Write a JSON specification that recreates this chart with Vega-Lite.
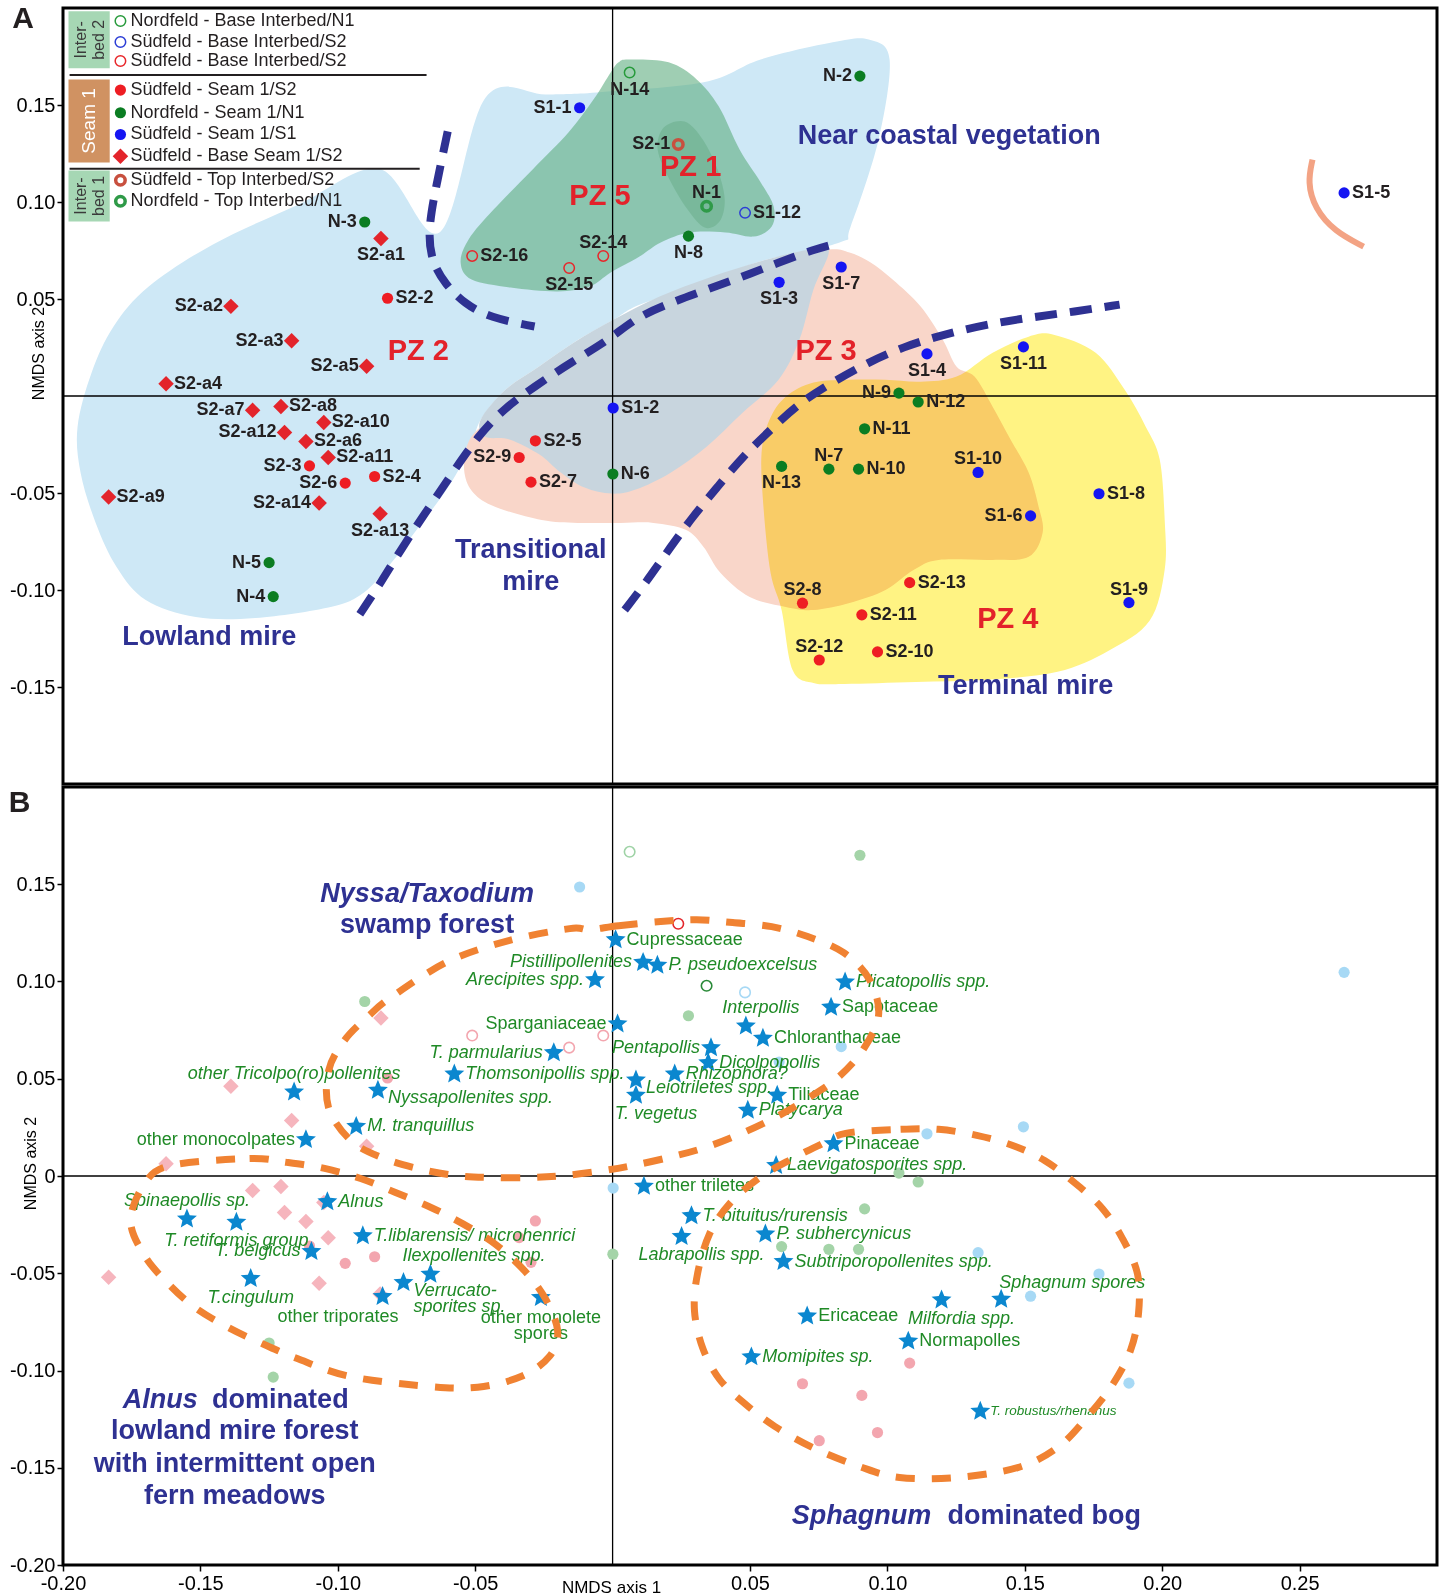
{
"$schema":"https://vega.github.io/schema/vega-lite/v6.json",
"background":"#ffffff",
"padding":{"left":7,"top":2,"right":0,"bottom":0},
"spacing":-6,
"resolve":{"scale":{"color":"independent"}},
"config":{
 "font":"Liberation Sans",
 "view":{"stroke":"#000000","strokeWidth":3},
 "axis":{"domain":false,"grid":false,"ticks":true,"tickSize":6,"tickWidth":1.5,"tickColor":"#000000","labelFontSize":20,"labelColor":"#000000","labelPadding":2,"titleFontSize":16,"titleFontWeight":"normal","titleColor":"#000000","labelFont":"Liberation Sans","titleFont":"Liberation Sans"}
},
"datasets":{
"samples":[
{"id":"N-14","g":"Nb","x":0.0062,"y":0.1667},
{"id":"S1-12","g":"Sb1","x":0.0482,"y":0.0944},
{"id":"S2-16","g":"Sb2","x":-0.0511,"y":0.0722},
{"id":"S2-15","g":"Sb2","x":-0.0158,"y":0.0660},
{"id":"S2-14","g":"Sb2","x":-0.0034,"y":0.0722},
{"id":"S2-1","g":"S2t","x":0.0239,"y":0.1297},
{"id":"N-1","g":"N1t","x":0.0342,"y":0.0978},
{"id":"S2-2","g":"S2s","x":-0.0819,"y":0.0504},
{"id":"S2-3","g":"S2s","x":-0.1103,"y":-0.0360},
{"id":"S2-4","g":"S2s","x":-0.0866,"y":-0.0415},
{"id":"S2-6","g":"S2s","x":-0.0973,"y":-0.0449},
{"id":"S2-5","g":"S2s","x":-0.0281,"y":-0.0231},
{"id":"S2-9","g":"S2s","x":-0.0340,"y":-0.0317},
{"id":"S2-7","g":"S2s","x":-0.0297,"y":-0.0444},
{"id":"S2-13","g":"S2s","x":0.1081,"y":-0.0962},
{"id":"S2-8","g":"S2s","x":0.0691,"y":-0.1068},
{"id":"S2-11","g":"S2s","x":0.0907,"y":-0.1128},
{"id":"S2-12","g":"S2s","x":0.0752,"y":-0.1361},
{"id":"S2-10","g":"S2s","x":0.0964,"y":-0.1319},
{"id":"N-3","g":"N1s","x":-0.0902,"y":0.0897},
{"id":"N-5","g":"N1s","x":-0.1250,"y":-0.0859},
{"id":"N-4","g":"N1s","x":-0.1235,"y":-0.1034},
{"id":"N-8","g":"N1s","x":0.0276,"y":0.0824},
{"id":"N-2","g":"N1s","x":0.0900,"y":0.1649},
{"id":"N-9","g":"N1s","x":0.1042,"y":0.0015},
{"id":"N-12","g":"N1s","x":0.1112,"y":-0.0031},
{"id":"N-11","g":"N1s","x":0.0917,"y":-0.0169},
{"id":"N-6","g":"N1s","x":0.0001,"y":-0.0402},
{"id":"N-13","g":"N1s","x":0.0615,"y":-0.0363},
{"id":"N-7","g":"N1s","x":0.0787,"y":-0.0377},
{"id":"N-10","g":"N1s","x":0.0895,"y":-0.0377},
{"id":"S1-1","g":"S1s","x":-0.0120,"y":0.1486},
{"id":"S1-7","g":"S1s","x":0.0832,"y":0.0665},
{"id":"S1-3","g":"S1s","x":0.0606,"y":0.0586},
{"id":"S1-4","g":"S1s","x":0.1144,"y":0.0217},
{"id":"S1-11","g":"S1s","x":0.1495,"y":0.0253},
{"id":"S1-2","g":"S1s","x":0.0002,"y":-0.0062},
{"id":"S1-10","g":"S1s","x":0.1330,"y":-0.0394},
{"id":"S1-8","g":"S1s","x":0.1770,"y":-0.0504},
{"id":"S1-6","g":"S1s","x":0.1521,"y":-0.0618},
{"id":"S1-9","g":"S1s","x":0.1879,"y":-0.1065},
{"id":"S1-5","g":"S1s","x":0.2662,"y":0.1047},
{"id":"S2-a1","g":"S2d","x":-0.0843,"y":0.0812},
{"id":"S2-a2","g":"S2d","x":-0.1389,"y":0.0462},
{"id":"S2-a3","g":"S2d","x":-0.1168,"y":0.0285},
{"id":"S2-a5","g":"S2d","x":-0.0895,"y":0.0153},
{"id":"S2-a4","g":"S2d","x":-0.1625,"y":0.0063},
{"id":"S2-a7","g":"S2d","x":-0.1310,"y":-0.0074},
{"id":"S2-a8","g":"S2d","x":-0.1207,"y":-0.0054},
{"id":"S2-a10","g":"S2d","x":-0.1051,"y":-0.0136},
{"id":"S2-a12","g":"S2d","x":-0.1194,"y":-0.0188},
{"id":"S2-a6","g":"S2d","x":-0.1116,"y":-0.0234},
{"id":"S2-a11","g":"S2d","x":-0.1035,"y":-0.0317},
{"id":"S2-a9","g":"S2d","x":-0.1834,"y":-0.0521},
{"id":"S2-a14","g":"S2d","x":-0.1068,"y":-0.0552},
{"id":"S2-a13","g":"S2d","x":-0.0846,"y":-0.0607}
],
"legendItems":[
{"g":"Nb","label":"Nordfeld - Base Interbed/N1","x":-0.1791,"y":0.1933},
{"g":"Sb1","label":"Südfeld - Base Interbed/S2","x":-0.1791,"y":0.1825},
{"g":"Sb2","label":"Südfeld - Base Interbed/S2","x":-0.1791,"y":0.1727},
{"g":"S2s","label":"Südfeld - Seam 1/S2","x":-0.1791,"y":0.1577},
{"g":"N1s","label":"Nordfeld - Seam 1/N1","x":-0.1791,"y":0.1460},
{"g":"S1s","label":"Südfeld - Seam 1/S1","x":-0.1791,"y":0.1348},
{"g":"S2d","label":"Südfeld - Base Seam 1/S2","x":-0.1791,"y":0.1236},
{"g":"S2t","label":"Südfeld - Top Interbed/S2","x":-0.1791,"y":0.1112},
{"g":"N1t","label":"Nordfeld - Top Interbed/N1","x":-0.1791,"y":0.1004}
],
"legendBoxes":[
{"box":"Inter-\nbed 2","x":-0.198,"x2":-0.183,"y":0.1983,"y2":0.1689},
{"box":"Seam 1","x":-0.198,"x2":-0.183,"y":0.1632,"y2":0.1204},
{"box":"Inter-\nbed 1","x":-0.198,"x2":-0.183,"y":0.1163,"y2":0.0900}
],
"boxLabels":[
{"box":"Inter-\nbed 2","x":-0.1936,"y":0.1836},
{"box":"Seam 1","x":-0.1905,"y":0.1418},
{"box":"Inter-\nbed 1","x":-0.1936,"y":0.1031}
],
"legendLines":[
{"x":-0.1976,"x2":-0.0677,"y":0.1654},
{"x":-0.1976,"x2":-0.0702,"y":0.1171}
],
"zeroV":[{"x":0,"y":-0.2,"y2":0.2}],
"zeroH":[{"x":-0.2,"x2":0.3,"y":0}],
"zonesA":[
{"t":"PZ 1","x":0.0284,"y":0.1178},
{"t":"PZ 2","x":-0.0707,"y":0.0231},
{"t":"PZ 3","x":0.0777,"y":0.0231},
{"t":"PZ 4","x":0.1438,"y":-0.1151},
{"t":"PZ 5","x":-0.0046,"y":0.1031}
],
"namesA":[
{"t":"Near coastal vegetation","x":0.1225,"y":0.1341},
{"t":"Transitional","x":-0.0298,"y":-0.0796},
{"t":"mire","x":-0.0298,"y":-0.0959},
{"t":"Lowland mire","x":-0.1468,"y":-0.1243},
{"t":"Terminal mire","x":0.1503,"y":-0.1495}
],
"labelA":[{"t":"A","x":-0.2145,"y":0.1945}],
"labelB":[{"t":"B","x":-0.2158,"y":0.1917}],
"regions":[
{"r":"blue","i":1,"x":-0.0630,"y":0.0843},{"r":"blue","i":2,"x":-0.0462,"y":0.1539},{"r":"blue","i":3,"x":-0.0240,"y":0.1554},{"r":"blue","i":4,"x":-0.0058,"y":0.1565},{"r":"blue","i":5,"x":0.0331,"y":0.1617},{"r":"blue","i":6,"x":0.0539,"y":0.1735},{"r":"blue","i":7,"x":0.0801,"y":0.1823},{"r":"blue","i":8,"x":0.0932,"y":0.1838},{"r":"blue","i":9,"x":0.1008,"y":0.1735},{"r":"blue","i":10,"x":0.0968,"y":0.1322},{"r":"blue","i":11,"x":0.0866,"y":0.0873},{"r":"blue","i":12,"x":0.0826,"y":0.0791},{"r":"blue","i":13,"x":0.0535,"y":0.0693},{"r":"blue","i":14,"x":0.0317,"y":0.0574},{"r":"blue","i":15,"x":0.0098,"y":0.0471},{"r":"blue","i":16,"x":0.0004,"y":0.0394},{"r":"blue","i":17,"x":-0.0142,"y":0.0275},{"r":"blue","i":18,"x":-0.0269,"y":0.0151},{"r":"blue","i":19,"x":-0.0389,"y":0.0033},{"r":"blue","i":20,"x":-0.0480,"y":-0.0122},{"r":"blue","i":21,"x":-0.0517,"y":-0.0261},{"r":"blue","i":22,"x":-0.0597,"y":-0.0467},{"r":"blue","i":23,"x":-0.0713,"y":-0.0689},{"r":"blue","i":24,"x":-0.0811,"y":-0.0870},{"r":"blue","i":25,"x":-0.0906,"y":-0.1014},{"r":"blue","i":26,"x":-0.1026,"y":-0.1087},{"r":"blue","i":27,"x":-0.1299,"y":-0.1144},{"r":"blue","i":28,"x":-0.1517,"y":-0.1139},{"r":"blue","i":29,"x":-0.1699,"y":-0.1051},{"r":"blue","i":30,"x":-0.1805,"y":-0.0881},{"r":"blue","i":31,"x":-0.1881,"y":-0.0654},{"r":"blue","i":32,"x":-0.1936,"y":-0.0396},{"r":"blue","i":33,"x":-0.1947,"y":-0.0158},{"r":"blue","i":34,"x":-0.1896,"y":0.0120},{"r":"blue","i":35,"x":-0.1816,"y":0.0358},{"r":"blue","i":36,"x":-0.1688,"y":0.0564},{"r":"blue","i":37,"x":-0.1456,"y":0.0780},{"r":"blue","i":38,"x":-0.1139,"y":0.0990},{"r":"blue","i":39,"x":-0.0848,"y":0.1170},
{"r":"salmon","i":1,"x":0.0786,"y":0.0755},{"r":"salmon","i":2,"x":0.0862,"y":0.0740},{"r":"salmon","i":3,"x":0.0939,"y":0.0688},{"r":"salmon","i":4,"x":0.1019,"y":0.0600},{"r":"salmon","i":5,"x":0.1121,"y":0.0461},{"r":"salmon","i":6,"x":0.1201,"y":0.0291},{"r":"salmon","i":7,"x":0.1252,"y":0.0151},{"r":"salmon","i":8,"x":0.1317,"y":0.0100},{"r":"salmon","i":9,"x":0.1383,"y":-0.0055},{"r":"salmon","i":10,"x":0.1448,"y":-0.0224},{"r":"salmon","i":11,"x":0.1514,"y":-0.0394},{"r":"salmon","i":12,"x":0.1550,"y":-0.0569},{"r":"salmon","i":13,"x":0.1565,"y":-0.0703},{"r":"salmon","i":14,"x":0.1514,"y":-0.0829},{"r":"salmon","i":15,"x":0.1383,"y":-0.0845},{"r":"salmon","i":16,"x":0.1186,"y":-0.0845},{"r":"salmon","i":17,"x":0.1095,"y":-0.0897},{"r":"salmon","i":18,"x":0.0993,"y":-0.1000},{"r":"salmon","i":19,"x":0.0862,"y":-0.1067},{"r":"salmon","i":20,"x":0.0731,"y":-0.1103},{"r":"salmon","i":21,"x":0.0630,"y":-0.1087},{"r":"salmon","i":22,"x":0.0499,"y":-0.1036},{"r":"salmon","i":23,"x":0.0393,"y":-0.0912},{"r":"salmon","i":24,"x":0.0331,"y":-0.0778},{"r":"salmon","i":25,"x":0.0266,"y":-0.0690},{"r":"salmon","i":26,"x":0.0149,"y":-0.0654},{"r":"salmon","i":27,"x":0.0029,"y":-0.0654},{"r":"salmon","i":28,"x":-0.0127,"y":-0.0654},{"r":"salmon","i":29,"x":-0.0258,"y":-0.0639},{"r":"salmon","i":30,"x":-0.0426,"y":-0.0572},{"r":"salmon","i":31,"x":-0.0506,"y":-0.0500},{"r":"salmon","i":32,"x":-0.0539,"y":-0.0397},{"r":"salmon","i":33,"x":-0.0531,"y":-0.0261},{"r":"salmon","i":34,"x":-0.0480,"y":-0.0158},{"r":"salmon","i":35,"x":-0.0338,"y":-0.0019},{"r":"salmon","i":36,"x":-0.0047,"y":0.0291},{"r":"salmon","i":37,"x":0.0317,"y":0.0549},{"r":"salmon","i":38,"x":0.0608,"y":0.0704},
{"r":"grey","i":1,"x":-0.0480,"y":-0.0122},{"r":"grey","i":2,"x":-0.0389,"y":0.0033},{"r":"grey","i":3,"x":-0.0269,"y":0.0151},{"r":"grey","i":4,"x":-0.0142,"y":0.0275},{"r":"grey","i":5,"x":0.0004,"y":0.0394},{"r":"grey","i":6,"x":0.0171,"y":0.0513},{"r":"grey","i":7,"x":0.0353,"y":0.0611},{"r":"grey","i":8,"x":0.0535,"y":0.0693},{"r":"grey","i":9,"x":0.0680,"y":0.0745},{"r":"grey","i":10,"x":0.0786,"y":0.0755},{"r":"grey","i":11,"x":0.0731,"y":0.0549},{"r":"grey","i":12,"x":0.0680,"y":0.0291},{"r":"grey","i":13,"x":0.0604,"y":0.0084},{"r":"grey","i":14,"x":0.0473,"y":-0.0086},{"r":"grey","i":15,"x":0.0342,"y":-0.0261},{"r":"grey","i":16,"x":0.0211,"y":-0.0395},{"r":"grey","i":17,"x":0.0084,"y":-0.0482},{"r":"grey","i":18,"x":-0.0004,"y":-0.0503},{"r":"grey","i":19,"x":-0.0102,"y":-0.0472},{"r":"grey","i":20,"x":-0.0193,"y":-0.0390},{"r":"grey","i":21,"x":-0.0266,"y":-0.0302},{"r":"grey","i":22,"x":-0.0375,"y":-0.0224},{"r":"grey","i":23,"x":-0.0466,"y":-0.0209},
{"r":"green","i":1,"x":0.0058,"y":0.1735},{"r":"green","i":2,"x":0.0204,"y":0.1720},{"r":"green","i":3,"x":0.0306,"y":0.1632},{"r":"green","i":4,"x":0.0386,"y":0.1493},{"r":"green","i":5,"x":0.0462,"y":0.1271},{"r":"green","i":6,"x":0.0539,"y":0.1101},{"r":"green","i":7,"x":0.0586,"y":0.0977},{"r":"green","i":8,"x":0.0579,"y":0.0874},{"r":"green","i":9,"x":0.0513,"y":0.0822},{"r":"green","i":10,"x":0.0411,"y":0.0843},{"r":"green","i":11,"x":0.0280,"y":0.0843},{"r":"green","i":12,"x":0.0175,"y":0.0791},{"r":"green","i":13,"x":0.0098,"y":0.0719},{"r":"green","i":14,"x":-0.0007,"y":0.0637},{"r":"green","i":15,"x":-0.0084,"y":0.0564},{"r":"green","i":16,"x":-0.0200,"y":0.0539},{"r":"green","i":17,"x":-0.0371,"y":0.0559},{"r":"green","i":18,"x":-0.0513,"y":0.0600},{"r":"green","i":19,"x":-0.0553,"y":0.0688},{"r":"green","i":20,"x":-0.0524,"y":0.0807},{"r":"green","i":21,"x":-0.0433,"y":0.0961},{"r":"green","i":22,"x":-0.0291,"y":0.1168},{"r":"green","i":23,"x":-0.0160,"y":0.1359},{"r":"green","i":24,"x":-0.0069,"y":0.1529},{"r":"green","i":25,"x":-0.0007,"y":0.1668},{"r":"green","i":26,"x":0.0022,"y":0.1720},
{"r":"pz1","i":1,"x":0.0186,"y":0.1384},{"r":"pz1","i":2,"x":0.0262,"y":0.1415},{"r":"pz1","i":3,"x":0.0328,"y":0.1322},{"r":"pz1","i":4,"x":0.0382,"y":0.1167},{"r":"pz1","i":5,"x":0.0408,"y":0.1012},{"r":"pz1","i":6,"x":0.0389,"y":0.0899},{"r":"pz1","i":7,"x":0.0335,"y":0.0868},{"r":"pz1","i":8,"x":0.0273,"y":0.0961},{"r":"pz1","i":9,"x":0.0207,"y":0.1116},{"r":"pz1","i":10,"x":0.0164,"y":0.1271},
{"r":"yellow","i":1,"x":0.0630,"y":-0.0004},{"r":"yellow","i":2,"x":0.0731,"y":0.0069},{"r":"yellow","i":3,"x":0.0862,"y":0.0084},{"r":"yellow","i":4,"x":0.0993,"y":0.0084},{"r":"yellow","i":5,"x":0.1121,"y":0.0074},{"r":"yellow","i":6,"x":0.1252,"y":0.0100},{"r":"yellow","i":7,"x":0.1383,"y":0.0223},{"r":"yellow","i":8,"x":0.1514,"y":0.0306},{"r":"yellow","i":9,"x":0.1605,"y":0.0316},{"r":"yellow","i":10,"x":0.1758,"y":0.0223},{"r":"yellow","i":11,"x":0.1863,"y":0.0033},{"r":"yellow","i":12,"x":0.1940,"y":-0.0158},{"r":"yellow","i":13,"x":0.1991,"y":-0.0327},{"r":"yellow","i":14,"x":0.2009,"y":-0.0637},{"r":"yellow","i":15,"x":0.2009,"y":-0.0895},{"r":"yellow","i":16,"x":0.1954,"y":-0.1159},{"r":"yellow","i":17,"x":0.1805,"y":-0.1313},{"r":"yellow","i":18,"x":0.1619,"y":-0.1422},{"r":"yellow","i":19,"x":0.1361,"y":-0.1463},{"r":"yellow","i":20,"x":0.1103,"y":-0.1474},{"r":"yellow","i":21,"x":0.0844,"y":-0.1484},{"r":"yellow","i":22,"x":0.0731,"y":-0.1479},{"r":"yellow","i":23,"x":0.0655,"y":-0.1412},{"r":"yellow","i":24,"x":0.0615,"y":-0.1103},{"r":"yellow","i":25,"x":0.0575,"y":-0.0912},{"r":"yellow","i":26,"x":0.0549,"y":-0.0572},{"r":"yellow","i":27,"x":0.0542,"y":-0.0294},{"r":"yellow","i":28,"x":0.0571,"y":-0.0123}
],
"borders":[
{"line":"a","i":1,"x":-0.0600,"y":0.1364},{"line":"a","i":2,"x":-0.0637,"y":0.1116},{"line":"a","i":3,"x":-0.0673,"y":0.0858},{"line":"a","i":4,"x":-0.0659,"y":0.0693},{"line":"a","i":5,"x":-0.0608,"y":0.0574},{"line":"a","i":6,"x":-0.0539,"y":0.0476},{"line":"a","i":7,"x":-0.0448,"y":0.0404},{"line":"a","i":8,"x":-0.0284,"y":0.0358},
{"line":"b","i":1,"x":-0.0920,"y":-0.1125},{"line":"b","i":2,"x":-0.0844,"y":-0.0963},{"line":"b","i":3,"x":-0.0764,"y":-0.0777},{"line":"b","i":4,"x":-0.0673,"y":-0.0585},{"line":"b","i":5,"x":-0.0582,"y":-0.0395},{"line":"b","i":6,"x":-0.0491,"y":-0.0209},{"line":"b","i":7,"x":-0.0400,"y":-0.0070},{"line":"b","i":8,"x":-0.0284,"y":0.0049},{"line":"b","i":9,"x":-0.0153,"y":0.0172},{"line":"b","i":10,"x":-0.0011,"y":0.0291},{"line":"b","i":11,"x":0.0084,"y":0.0404},{"line":"b","i":12,"x":0.0211,"y":0.0481},{"line":"b","i":13,"x":0.0342,"y":0.0548},{"line":"b","i":14,"x":0.0473,"y":0.0615},{"line":"b","i":15,"x":0.0604,"y":0.0688},{"line":"b","i":16,"x":0.0731,"y":0.0755},{"line":"b","i":17,"x":0.0826,"y":0.0791},
{"line":"c","i":1,"x":0.0044,"y":-0.1103},{"line":"c","i":2,"x":0.0120,"y":-0.0964},{"line":"c","i":3,"x":0.0211,"y":-0.0778},{"line":"c","i":4,"x":0.0291,"y":-0.0623},{"line":"c","i":5,"x":0.0382,"y":-0.0468},{"line":"c","i":6,"x":0.0473,"y":-0.0313},{"line":"c","i":7,"x":0.0575,"y":-0.0174},{"line":"c","i":8,"x":0.0680,"y":-0.0035},{"line":"c","i":9,"x":0.0797,"y":0.0069},{"line":"c","i":10,"x":0.0928,"y":0.0172},{"line":"c","i":11,"x":0.1059,"y":0.0254},{"line":"c","i":12,"x":0.1201,"y":0.0316},{"line":"c","i":13,"x":0.1357,"y":0.0368},{"line":"c","i":14,"x":0.1514,"y":0.0404},{"line":"c","i":15,"x":0.1681,"y":0.0435},{"line":"c","i":16,"x":0.1845,"y":0.0471}
],
"arc":[
{"i":1,"x":0.2547,"y":0.1219},{"i":2,"x":0.2529,"y":0.1101},{"i":3,"x":0.2555,"y":0.0967},{"i":4,"x":0.2627,"y":0.0848},{"i":5,"x":0.2733,"y":0.0770}
],
"ellipses":[
{"e":"upper","i":1,"x":-0.0084,"y":0.1267},{"e":"upper","i":2,"x":0.0022,"y":0.1287},{"e":"upper","i":3,"x":0.0175,"y":0.1308},{"e":"upper","i":4,"x":0.0306,"y":0.1318},{"e":"upper","i":5,"x":0.0437,"y":0.1303},{"e":"upper","i":6,"x":0.0579,"y":0.1282},{"e":"upper","i":7,"x":0.0710,"y":0.1231},{"e":"upper","i":8,"x":0.0841,"y":0.1148},{"e":"upper","i":9,"x":0.0935,"y":0.1009},{"e":"upper","i":10,"x":0.0968,"y":0.0828},{"e":"upper","i":11,"x":0.0913,"y":0.0653},{"e":"upper","i":12,"x":0.0826,"y":0.0514},{"e":"upper","i":13,"x":0.0717,"y":0.0405},{"e":"upper","i":14,"x":0.0600,"y":0.0307},{"e":"upper","i":15,"x":0.0469,"y":0.0219},{"e":"upper","i":16,"x":0.0338,"y":0.0147},{"e":"upper","i":17,"x":0.0207,"y":0.0096},{"e":"upper","i":18,"x":0.0073,"y":0.0054},{"e":"upper","i":19,"x":-0.0033,"y":0.0028},{"e":"upper","i":20,"x":-0.0171,"y":0.0003},{"e":"upper","i":21,"x":-0.0298,"y":-0.0008},{"e":"upper","i":22,"x":-0.0444,"y":-0.0008},{"e":"upper","i":23,"x":-0.0575,"y":0.0003},{"e":"upper","i":24,"x":-0.0710,"y":0.0039},{"e":"upper","i":25,"x":-0.0841,"y":0.0095},{"e":"upper","i":26,"x":-0.0953,"y":0.0183},{"e":"upper","i":27,"x":-0.1033,"y":0.0348},{"e":"upper","i":28,"x":-0.1033,"y":0.0544},{"e":"upper","i":29,"x":-0.0975,"y":0.0699},{"e":"upper","i":30,"x":-0.0884,"y":0.0828},{"e":"upper","i":31,"x":-0.0804,"y":0.0921},{"e":"upper","i":32,"x":-0.0600,"y":0.1102},{"e":"upper","i":33,"x":-0.0378,"y":0.1210},{"e":"upper","i":34,"x":-0.0156,"y":0.1272},
{"e":"left","i":1,"x":-0.1608,"y":0.0054},{"e":"left","i":2,"x":-0.1321,"y":0.0090},{"e":"left","i":3,"x":-0.1186,"y":0.0070},{"e":"left","i":4,"x":-0.1048,"y":0.0039},{"e":"left","i":5,"x":-0.0917,"y":-0.0013},{"e":"left","i":6,"x":-0.0790,"y":-0.0085},{"e":"left","i":7,"x":-0.0659,"y":-0.0163},{"e":"left","i":8,"x":-0.0546,"y":-0.0245},{"e":"left","i":9,"x":-0.0429,"y":-0.0348},{"e":"left","i":10,"x":-0.0320,"y":-0.0488},{"e":"left","i":11,"x":-0.0244,"y":-0.0632},{"e":"left","i":12,"x":-0.0200,"y":-0.0797},{"e":"left","i":13,"x":-0.0229,"y":-0.0926},{"e":"left","i":14,"x":-0.0331,"y":-0.1030},{"e":"left","i":15,"x":-0.0491,"y":-0.1086},{"e":"left","i":16,"x":-0.0677,"y":-0.1081},{"e":"left","i":17,"x":-0.0957,"y":-0.1030},{"e":"left","i":18,"x":-0.1150,"y":-0.0937},{"e":"left","i":19,"x":-0.1270,"y":-0.0865},{"e":"left","i":20,"x":-0.1394,"y":-0.0782},{"e":"left","i":21,"x":-0.1517,"y":-0.0679},{"e":"left","i":22,"x":-0.1616,"y":-0.0555},{"e":"left","i":23,"x":-0.1703,"y":-0.0410},{"e":"left","i":24,"x":-0.1754,"y":-0.0230},{"e":"left","i":25,"x":-0.1703,"y":-0.0039},
{"e":"right","i":1,"x":0.0848,"y":0.0219},{"e":"right","i":2,"x":0.1048,"y":0.0240},{"e":"right","i":3,"x":0.1186,"y":0.0240},{"e":"right","i":4,"x":0.1325,"y":0.0209},{"e":"right","i":5,"x":0.1456,"y":0.0157},{"e":"right","i":6,"x":0.1572,"y":0.0080},{"e":"right","i":7,"x":0.1685,"y":-0.0039},{"e":"right","i":8,"x":0.1783,"y":-0.0168},{"e":"right","i":9,"x":0.1856,"y":-0.0323},{"e":"right","i":10,"x":0.1910,"y":-0.0503},{"e":"right","i":11,"x":0.1914,"y":-0.0704},{"e":"right","i":12,"x":0.1885,"y":-0.0895},{"e":"right","i":13,"x":0.1820,"y":-0.1071},{"e":"right","i":14,"x":0.1729,"y":-0.1236},{"e":"right","i":15,"x":0.1619,"y":-0.1396},{"e":"right","i":16,"x":0.1474,"y":-0.1499},{"e":"right","i":17,"x":0.1252,"y":-0.1550},{"e":"right","i":18,"x":0.1044,"y":-0.1550},{"e":"right","i":19,"x":0.0899,"y":-0.1494},{"e":"right","i":20,"x":0.0735,"y":-0.1401},{"e":"right","i":21,"x":0.0590,"y":-0.1287},{"e":"right","i":22,"x":0.0480,"y":-0.1169},{"e":"right","i":23,"x":0.0389,"y":-0.1045},{"e":"right","i":24,"x":0.0328,"y":-0.0885},{"e":"right","i":25,"x":0.0298,"y":-0.0694},{"e":"right","i":26,"x":0.0309,"y":-0.0503},{"e":"right","i":27,"x":0.0353,"y":-0.0297},{"e":"right","i":28,"x":0.0426,"y":-0.0142},{"e":"right","i":29,"x":0.0535,"y":-0.0008},{"e":"right","i":30,"x":0.0655,"y":0.0090},{"e":"right","i":31,"x":0.0750,"y":0.0157}
],
"taxa":[
{"name":"Cupressaceae","x":0.0011,"y":0.1215},
{"name":"Pistillipollenites","x":0.0111,"y":0.1098},
{"name":"P. pseudoexcelsus","x":0.0163,"y":0.1083},
{"name":"Arecipites spp.","x":-0.0064,"y":0.1009},
{"name":"Plicatopollis spp.","x":0.0846,"y":0.0997},
{"name":"Sapotaceae","x":0.0795,"y":0.0868},
{"name":"Interpollis","x":0.0485,"y":0.0771},
{"name":"Chloranthaceae","x":0.0547,"y":0.0708},
{"name":"Sparganiaceae","x":0.0018,"y":0.0782},
{"name":"Pentapollis","x":0.0358,"y":0.0659},
{"name":"Dicolpopollis","x":0.0348,"y":0.0582},
{"name":"Rhizophora?","x":0.0226,"y":0.0524},
{"name":"Leiotriletes spp.","x":0.0085,"y":0.0493},
{"name":"T. vegetus","x":0.0085,"y":0.0415},
{"name":"Tiliaceae","x":0.0599,"y":0.0415},
{"name":"Platycarya","x":0.0492,"y":0.0338},
{"name":"Pinaceae","x":0.0804,"y":0.0166},
{"name":"Laevigatosporites spp.","x":0.0595,"y":0.0054},
{"name":"other triletes","x":0.0114,"y":-0.0053},
{"name":"T. bituitus/rurensis","x":0.0287,"y":-0.0204},
{"name":"Labrapollis spp.","x":0.0251,"y":-0.0311},
{"name":"P. subhercynicus","x":0.0556,"y":-0.0298},
{"name":"Subtriporopollenites spp.","x":0.0622,"y":-0.0440},
{"name":"Ericaceae","x":0.0708,"y":-0.0720},
{"name":"Milfordia spp.","x":0.1197,"y":-0.0637},
{"name":"Sphagnum spores","x":0.1414,"y":-0.0634},
{"name":"Normapolles","x":0.1076,"y":-0.0849},
{"name":"Momipites sp.","x":0.0505,"y":-0.0930},
{"name":"T. robustus/rhenanus","x":0.1338,"y":-0.1210},
{"name":"other Tricolpo(ro)pollenites","x":-0.1159,"y":0.0432},
{"name":"Nyssapollenites spp.","x":-0.0854,"y":0.0441},
{"name":"M. tranquillus","x":-0.0933,"y":0.0255},
{"name":"other monocolpates","x":-0.1116,"y":0.0187},
{"name":"Thomsonipollis spp.","x":-0.0576,"y":0.0524},
{"name":"T. parmularius","x":-0.0214,"y":0.0634},
{"name":"Spinaepollis sp.","x":-0.1549,"y":-0.0221},
{"name":"T. retiformis group","x":-0.1369,"y":-0.0238},
{"name":"Alnus","x":-0.1038,"y":-0.0132},
{"name":"T. belgicus","x":-0.1096,"y":-0.0388},
{"name":"T.liblarensis/ microhenrici","x":-0.0909,"y":-0.0307},
{"name":"T.cingulum","x":-0.1317,"y":-0.0527},
{"name":"Ilexpollenites spp.","x":-0.0663,"y":-0.0505},
{"name":"Verrucato-","x":-0.0761,"y":-0.0548},
{"name":"other triporates","x":-0.0837,"y":-0.0620},
{"name":"other monolete","x":-0.0261,"y":-0.0625}
],
"taxaExtra":[
{"t":"sporites sp.","x":-0.0761,"y":-0.0548},
{"t":"spores","x":-0.0261,"y":-0.0625}
],
"annB":[
{"t":"Nyssa/Taxodium","x":-0.0675,"y":0.1450},
{"t":"swamp forest","x":-0.0675,"y":0.1288},
{"t":"Alnus","x":-0.1646,"y":-0.1150},
{"t":"dominated","x":-0.1209,"y":-0.1150},
{"t":"lowland mire forest","x":-0.1375,"y":-0.1313},
{"t":"with intermittent open","x":-0.1375,"y":-0.1480},
{"t":"fern meadows","x":-0.1375,"y":-0.1643},
{"t":"Sphagnum","x":0.0906,"y":-0.1748},
{"t":"dominated bog","x":0.1571,"y":-0.1748}
]
},
"vconcat":[
{
"width":1374,"height":776,
"encoding":{
 "x":{"field":"x","type":"quantitative","scale":{"domain":[-0.2,0.3],"nice":false,"zero":false},"axis":null},
 "y":{"field":"y","type":"quantitative","scale":{"domain":[-0.2,0.2],"nice":false,"zero":false},
  "axis":{"values":[-0.15,-0.1,-0.05,0.05,0.1,0.15],"labelExpr":"(datum.value < 0 ? '-' : '') + format(abs(datum.value), '.2f')","title":"NMDS axis 2","titleX":-25,"titleY":345,"titleAngle":270,"titleBaseline":"middle","titleAlign":"center","labelOverlap":false}}
},
"layer":[
{"data":{"name":"regions"},"transform":[{"filter":"datum.r == 'blue'"}],
 "mark":{"type":"line","interpolate":"cardinal-closed","fill":"#cee8f6","strokeWidth":0},"encoding":{"order":{"field":"i"}}},
{"data":{"name":"regions"},"transform":[{"filter":"datum.r == 'salmon'"}],
 "mark":{"type":"line","interpolate":"cardinal-closed","fill":"#f9d6c9","strokeWidth":0},"encoding":{"order":{"field":"i"}}},
{"data":{"name":"regions"},"transform":[{"filter":"datum.r == 'grey'"}],
 "mark":{"type":"line","interpolate":"cardinal-closed","fill":"#c8d5de","strokeWidth":0},"encoding":{"order":{"field":"i"}}},
{"data":{"name":"regions"},"transform":[{"filter":"datum.r == 'green'"}],
 "mark":{"type":"line","interpolate":"cardinal-closed","fill":"#5fae80","fillOpacity":0.6,"strokeWidth":0},"encoding":{"order":{"field":"i"}}},
{"data":{"name":"regions"},"transform":[{"filter":"datum.r == 'pz1'"}],
 "mark":{"type":"line","interpolate":"cardinal-closed","fill":"#4f9a6e","fillOpacity":0.3,"strokeWidth":0},"encoding":{"order":{"field":"i"}}},
{"data":{"name":"regions"},"transform":[{"filter":"datum.r == 'yellow'"}],
 "mark":{"type":"line","interpolate":"cardinal-closed","fill":"#fff383","blend":"multiply","strokeWidth":0},"encoding":{"order":{"field":"i"}}},
{"data":{"name":"zeroV"},"mark":{"type":"rule","color":"#000000","strokeWidth":1.3},"encoding":{"y2":{"field":"y2"}}},
{"data":{"name":"zeroH"},"mark":{"type":"rule","color":"#000000","strokeWidth":1.3},"encoding":{"x2":{"field":"x2"}}},
{"data":{"name":"borders"},
 "mark":{"type":"line","interpolate":"basis","color":"#2e3192","strokeWidth":8,"strokeDash":[22,13]},
 "encoding":{"detail":{"field":"line","type":"nominal"},"order":{"field":"i"}}},
{"data":{"name":"arc"},
 "mark":{"type":"line","interpolate":"basis","color":"#f3a384","strokeWidth":6},
 "encoding":{"order":{"field":"i"}}},
{"data":{"name":"legendBoxes"},"transform":[{"filter":"datum.box != 'Seam 1'"}],"mark":{"type":"rect","color":"#a6d7b4"},
 "encoding":{"x2":{"field":"x2"},"y2":{"field":"y2"}}},
{"data":{"name":"legendBoxes"},"transform":[{"filter":"datum.box == 'Seam 1'"}],"mark":{"type":"rect","color":"#d09262"},
 "encoding":{"x2":{"field":"x2"},"y2":{"field":"y2"}}},
{"data":{"name":"boxLabels"},"transform":[{"filter":"datum.box != 'Seam 1'"}],
 "mark":{"type":"text","angle":270,"align":"center","baseline":"middle","fontSize":16,"color":"#3a3a3a","lineBreak":"\n","lineHeight":18},
 "encoding":{"text":{"field":"box"}}},
{"data":{"name":"boxLabels"},"transform":[{"filter":"datum.box == 'Seam 1'"}],
 "mark":{"type":"text","angle":270,"align":"center","baseline":"middle","fontSize":19,"color":"#ffffff"},
 "encoding":{"text":{"field":"box"}}},
{"data":{"name":"legendLines"},"mark":{"type":"rule","color":"#231f20","strokeWidth":2},
 "encoding":{"x2":{"field":"x2"}}},
{"data":{"name":"samples"},"transform":[{"filter":{"field":"g","oneOf":["Nb","Sb1","Sb2"]}}],
 "mark":{"type":"point","shape":"circle","filled":false,"strokeWidth":1.5,"size":110,"opacity":1},
 "encoding":{"color":{"field":"g","type":"nominal","scale":{"domain":["Nb","Sb1","Sb2","S2s","N1s","S1s","S2d","S2t","N1t"],"range":["#279a3b","#2c3ed6","#e8262a","#ee1d23","#0b7d22","#1515f2","#e3242b","#c8503f","#2f9a48"]},"legend":null}}},
{"data":{"name":"samples"},"transform":[{"filter":{"field":"g","oneOf":["S2s","N1s","S1s"]}}],
 "mark":{"type":"point","shape":"circle","filled":true,"size":125,"opacity":1},
 "encoding":{"color":{"field":"g","type":"nominal","legend":null}}},
{"data":{"name":"samples"},"transform":[{"filter":{"field":"g","oneOf":["S2d"]}}],
 "mark":{"type":"point","shape":"diamond","filled":true,"size":240,"opacity":1},
 "encoding":{"color":{"field":"g","type":"nominal","legend":null}}},
{"data":{"name":"samples"},"transform":[{"filter":{"field":"g","oneOf":["S2t","N1t"]}}],
 "mark":{"type":"point","shape":"circle","filled":false,"strokeWidth":3.5,"size":90,"opacity":1},
 "encoding":{"color":{"field":"g","type":"nominal","legend":null}}},
{"data":{"name":"legendItems"},"transform":[{"filter":{"field":"g","oneOf":["Nb","Sb1","Sb2"]}}],
 "mark":{"type":"point","shape":"circle","filled":false,"strokeWidth":1.5,"size":110,"opacity":1},
 "encoding":{"color":{"field":"g","type":"nominal","legend":null}}},
{"data":{"name":"legendItems"},"transform":[{"filter":{"field":"g","oneOf":["S2s","N1s","S1s"]}}],
 "mark":{"type":"point","shape":"circle","filled":true,"size":125,"opacity":1},
 "encoding":{"color":{"field":"g","type":"nominal","legend":null}}},
{"data":{"name":"legendItems"},"transform":[{"filter":{"field":"g","oneOf":["S2d"]}}],
 "mark":{"type":"point","shape":"diamond","filled":true,"size":240,"opacity":1},
 "encoding":{"color":{"field":"g","type":"nominal","legend":null}}},
{"data":{"name":"legendItems"},"transform":[{"filter":{"field":"g","oneOf":["S2t","N1t"]}}],
 "mark":{"type":"point","shape":"circle","filled":false,"strokeWidth":3.5,"size":90,"opacity":1},
 "encoding":{"color":{"field":"g","type":"nominal","legend":null}}},
{"data":{"name":"legendItems"},"mark":{"type":"text","align":"left","baseline":"middle","dx":10,"fontSize":18,"color":"#231f20"},
 "encoding":{"text":{"field":"label"}}},
{"data":{"name":"samples"},"transform":[{"filter":{"field":"id","oneOf":["S2-2","S2-a4","S2-a8","S2-a10","S2-a6","S2-a11","S2-4","S2-a9","S2-5","S2-7","S2-16","S1-12","S1-2","N-12","N-11","N-6","N-10","S1-8","S2-13","S2-11","S2-10","S1-5"]}}],
 "mark":{"type":"text","align":"left","baseline":"middle","dx":8,"fontSize":18,"fontWeight":"bold","color":"#231f20"},
 "encoding":{"text":{"field":"id"}}},
{"data":{"name":"samples"},"transform":[{"filter":{"field":"id","oneOf":["S2-a2","S2-a3","S2-a5","S2-a7","S2-a12","S2-3","S2-6","S2-a14","N-5","N-4","S2-9","S2-1","S1-1","N-2","N-9","S1-6","N-3"]}}],
 "mark":{"type":"text","align":"right","baseline":"middle","dx":-8,"fontSize":18,"fontWeight":"bold","color":"#231f20"},
 "encoding":{"text":{"field":"id"}}},
{"data":{"name":"samples"},"transform":[{"filter":{"field":"id","oneOf":["S2-14","N-1","N-7","S1-10","S2-8","S1-9","S2-12"]}}],
 "mark":{"type":"text","align":"center","baseline":"bottom","dy":-4,"fontSize":18,"fontWeight":"bold","color":"#231f20"},
 "encoding":{"text":{"field":"id"}}},
{"data":{"name":"samples"},"transform":[{"filter":{"field":"id","oneOf":["S2-a1","S2-a13","S2-15","N-14","N-8","S1-7","S1-3","S1-4","S1-11","N-13"]}}],
 "mark":{"type":"text","align":"center","baseline":"top","dy":8,"fontSize":18,"fontWeight":"bold","color":"#231f20"},
 "encoding":{"text":{"field":"id"}}},
{"data":{"name":"zonesA"},"mark":{"type":"text","align":"center","baseline":"middle","fontSize":29,"fontWeight":"bold","color":"#e3222a"},
 "encoding":{"text":{"field":"t"}}},
{"data":{"name":"namesA"},"mark":{"type":"text","align":"center","baseline":"middle","fontSize":27,"fontWeight":"bold","color":"#2e3192"},
 "encoding":{"text":{"field":"t"}}},
{"data":{"name":"labelA"},"mark":{"type":"text","align":"center","baseline":"middle","fontSize":30,"fontWeight":"bold","color":"#231f20"},
 "encoding":{"text":{"field":"t"}}}
]
},
{
"width":1374,"height":778,
"encoding":{
 "x":{"field":"x","type":"quantitative","scale":{"domain":[-0.2,0.3],"nice":false,"zero":false},
  "axis":{"values":[-0.2,-0.15,-0.1,-0.05,0.05,0.1,0.15,0.2,0.25],"labelExpr":"(datum.value < 0 ? '-' : '') + format(abs(datum.value), '.2f')","labelFlush":false,"labelOverlap":false,"title":"NMDS axis 1","titleFontSize":17,"titleX":548,"titleY":22,"titleBaseline":"middle","titleAlign":"center"}},
 "y":{"field":"y","type":"quantitative","scale":{"domain":[-0.2,0.2],"nice":false,"zero":false},
  "axis":{"values":[-0.2,-0.15,-0.1,-0.05,0,0.05,0.1,0.15],"labelExpr":"datum.value == 0 ? '0' : (datum.value < 0 ? '-' : '') + format(abs(datum.value), '.2f')","labelOverlap":false,"title":"NMDS axis 2","titleX":-33,"titleY":376,"titleAngle":270,"titleBaseline":"middle","titleAlign":"center"}}
},
"layer":[
{"data":{"name":"zeroV"},"mark":{"type":"rule","color":"#000000","strokeWidth":1.3},"encoding":{"y2":{"field":"y2"}}},
{"data":{"name":"zeroH"},"mark":{"type":"rule","color":"#000000","strokeWidth":1.3},"encoding":{"x2":{"field":"x2"}}},
{"data":{"name":"samples"},"transform":[{"filter":{"field":"g","oneOf":["Nb","Sb1","Sb2","S2t","N1t"]}}],
 "mark":{"type":"point","shape":"circle","filled":false,"strokeWidth":1.6,"size":110,"opacity":1},
 "encoding":{"color":{"field":"g","type":"nominal","scale":{"domain":["Nb","Sb1","Sb2","S2s","N1s","S1s","S2d","S2t","N1t"],"range":["#9fd3a6","#a7d9f5","#f3a6af","#f3a6af","#a4d4a8","#a7d9f5","#f6b5bd","#e3262b","#2a8a38"]},"legend":null}}},
{"data":{"name":"samples"},"transform":[{"filter":{"field":"g","oneOf":["S2s","N1s","S1s"]}}],
 "mark":{"type":"point","shape":"circle","filled":true,"size":125,"opacity":1},
 "encoding":{"color":{"field":"g","type":"nominal","legend":null}}},
{"data":{"name":"samples"},"transform":[{"filter":{"field":"g","oneOf":["S2d"]}}],
 "mark":{"type":"point","shape":"diamond","filled":true,"size":240,"opacity":1},
 "encoding":{"color":{"field":"g","type":"nominal","legend":null}}},
{"data":{"name":"taxa"},"mark":{"type":"point","shape":"M0,-1L0.2645,-0.364L0.951,-0.309L0.428,0.139L0.588,0.809L0,0.45L-0.588,0.809L-0.428,0.139L-0.951,-0.309L-0.2645,-0.364Z","filled":true,"color":"#0b87cf","size":440,"opacity":1}},
{"data":{"name":"taxa"},"transform":[{"filter":{"field":"name","oneOf":["P. pseudoexcelsus","Plicatopollis spp.","Dicolpopollis","Rhizophora?","Platycarya","Laevigatosporites spp.","T. bituitus/rurensis","P. subhercynicus","Subtriporopollenites spp.","Momipites sp.","M. tranquillus","Thomsonipollis spp.","Alnus","T.liblarensis/ microhenrici"]}}],
 "mark":{"type":"text","align":"left","baseline":"middle","dx":11,"fontSize":18,"fontStyle":"italic","color":"#1f8a26"},
 "encoding":{"text":{"field":"name"}}},
{"data":{"name":"taxa"},"transform":[{"filter":{"field":"name","oneOf":["Nyssapollenites spp.","Leiotriletes spp.","Verrucato-"]}}],
 "mark":{"type":"text","align":"left","baseline":"top","dx":10,"dy":-1,"fontSize":18,"fontStyle":"italic","color":"#1f8a26"},
 "encoding":{"text":{"field":"name"}}},
{"data":{"name":"taxaExtra"},"transform":[{"filter":"datum.t == 'sporites sp.'"}],
 "mark":{"type":"text","align":"left","baseline":"top","dx":10,"dy":15,"fontSize":18,"fontStyle":"italic","color":"#1f8a26"},
 "encoding":{"text":{"field":"t"}}},
{"data":{"name":"taxa"},"transform":[{"filter":{"field":"name","oneOf":["Pistillipollenites","Arecipites spp.","Pentapollis","T. parmularius","T. belgicus"]}}],
 "mark":{"type":"text","align":"right","baseline":"middle","dx":-11,"fontSize":18,"fontStyle":"italic","color":"#1f8a26"},
 "encoding":{"text":{"field":"name"}}},
{"data":{"name":"taxa"},"transform":[{"filter":{"field":"name","oneOf":["Spinaepollis sp.","other Tricolpo(ro)pollenites"]}}],
 "mark":{"type":"text","align":"center","baseline":"bottom","dy":-9,"fontSize":18,"fontStyle":"italic","color":"#1f8a26"},
 "encoding":{"text":{"field":"name"}}},
{"data":{"name":"taxa"},"transform":[{"filter":{"field":"name","oneOf":["Interpollis"]}}],
 "mark":{"type":"text","align":"center","baseline":"bottom","dx":15,"dy":-9,"fontSize":18,"fontStyle":"italic","color":"#1f8a26"},
 "encoding":{"text":{"field":"name"}}},
{"data":{"name":"taxa"},"transform":[{"filter":{"field":"name","oneOf":["Ilexpollenites spp."]}}],
 "mark":{"type":"text","align":"left","baseline":"bottom","dx":-28,"dy":-9,"fontSize":18,"fontStyle":"italic","color":"#1f8a26"},
 "encoding":{"text":{"field":"name"}}},
{"data":{"name":"taxa"},"transform":[{"filter":{"field":"name","oneOf":["T. retiformis group","T.cingulum"]}}],
 "mark":{"type":"text","align":"center","baseline":"top","dy":10,"fontSize":18,"fontStyle":"italic","color":"#1f8a26"},
 "encoding":{"text":{"field":"name"}}},
{"data":{"name":"taxa"},"transform":[{"filter":{"field":"name","oneOf":["T. vegetus","Labrapollis spp.","Milfordia spp."]}}],
 "mark":{"type":"text","align":"center","baseline":"top","dx":20,"dy":10,"fontSize":18,"fontStyle":"italic","color":"#1f8a26"},
 "encoding":{"text":{"field":"name"}}},
{"data":{"name":"taxa"},"transform":[{"filter":{"field":"name","oneOf":["Sphagnum spores"]}}],
 "mark":{"type":"text","align":"left","baseline":"bottom","dx":-2,"dy":-7,"fontSize":18,"fontStyle":"italic","color":"#1f8a26"},
 "encoding":{"text":{"field":"name"}}},
{"data":{"name":"taxa"},"transform":[{"filter":{"field":"name","oneOf":["Cupressaceae","Sapotaceae","Chloranthaceae","Tiliaceae","Pinaceae","other triletes","Ericaceae","Normapolles"]}}],
 "mark":{"type":"text","align":"left","baseline":"middle","dx":11,"fontSize":18,"color":"#1f8a26"},
 "encoding":{"text":{"field":"name"}}},
{"data":{"name":"taxa"},"transform":[{"filter":{"field":"name","oneOf":["Sparganiaceae","other monocolpates"]}}],
 "mark":{"type":"text","align":"right","baseline":"middle","dx":-11,"fontSize":18,"color":"#1f8a26"},
 "encoding":{"text":{"field":"name"}}},
{"data":{"name":"taxa"},"transform":[{"filter":{"field":"name","oneOf":["other monolete"]}}],
 "mark":{"type":"text","align":"center","baseline":"top","dy":11,"fontSize":18,"color":"#1f8a26"},
 "encoding":{"text":{"field":"name"}}},
{"data":{"name":"taxa"},"transform":[{"filter":{"field":"name","oneOf":["other triporates"]}}],
 "mark":{"type":"text","align":"right","baseline":"top","dx":16,"dy":11,"fontSize":18,"color":"#1f8a26"},
 "encoding":{"text":{"field":"name"}}},
{"data":{"name":"taxaExtra"},"transform":[{"filter":"datum.t == 'spores'"}],
 "mark":{"type":"text","align":"center","baseline":"top","dy":27,"fontSize":18,"color":"#1f8a26"},
 "encoding":{"text":{"field":"t"}}},
{"data":{"name":"taxa"},"transform":[{"filter":{"field":"name","oneOf":["T. robustus/rhenanus"]}}],
 "mark":{"type":"text","align":"left","baseline":"middle","dx":10,"fontSize":13.5,"fontStyle":"italic","color":"#1f8a26"},
 "encoding":{"text":{"field":"name"}}},
{"data":{"name":"ellipses"},
 "mark":{"type":"line","interpolate":"cardinal-closed","color":"#f08232","strokeWidth":7,"strokeDash":[19,17]},
 "encoding":{"detail":{"field":"e","type":"nominal"},"order":{"field":"i"}}},
{"data":{"name":"annB"},"transform":[{"filter":{"not":{"field":"t","oneOf":["Nyssa/Taxodium","Alnus","Sphagnum"]}}}],
 "mark":{"type":"text","align":"center","baseline":"middle","fontSize":27,"fontWeight":"bold","color":"#2e3192"},
 "encoding":{"text":{"field":"t"}}},
{"data":{"name":"annB"},"transform":[{"filter":{"field":"t","oneOf":["Nyssa/Taxodium","Alnus","Sphagnum"]}}],
 "mark":{"type":"text","align":"center","baseline":"middle","fontSize":27,"fontWeight":"bold","fontStyle":"italic","color":"#2e3192"},
 "encoding":{"text":{"field":"t"}}},
{"data":{"name":"labelB"},"mark":{"type":"text","align":"center","baseline":"middle","fontSize":30,"fontWeight":"bold","color":"#231f20"},
 "encoding":{"text":{"field":"t"}}}
]
}
]
}
